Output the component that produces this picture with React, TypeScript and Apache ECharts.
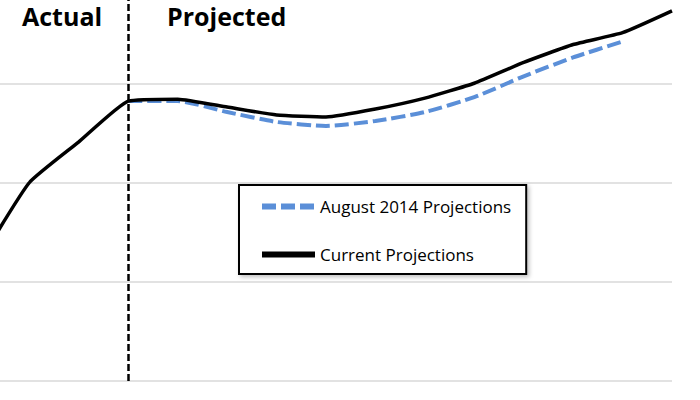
import React, { useEffect, useRef } from "react";
import * as echarts from "echarts";

const years = ["2011", "2012", "2013", "2014", "2015", "2016", "2017", "2018", "2019", "2020", "2021", "2022", "2023", "2024", "2025"];
const currentProjections = [1.21, 2.0, 2.41, 2.82, 2.84, 2.76, 2.68, 2.66, 2.74, 2.85, 3.0, 3.21, 3.39, 3.51, 3.73];
const august2014Projections = [null, null, null, 2.82, 2.82, 2.71, 2.61, 2.57, 2.62, 2.71, 2.86, 3.07, 3.26, 3.42, null];
const dividerYear = "2014";

export default function App() {
  const ref = useRef<HTMLDivElement>(null);
  useEffect(() => {
    const chart = echarts.init(ref.current!, null, { renderer: "svg" });
    chart.setOption({
      animation: false,
      backgroundColor: "#ffffff",
      textStyle: { fontFamily: "Open Sans" },
      grid: { left: -20, right: 28, top: -16, bottom: 19, outerBoundsMode: "none", containLabel: false },
      xAxis: {
        type: "category",
        data: years,
        boundaryGap: false,
        axisLine: { show: false },
        axisTick: { show: false },
        axisLabel: { show: false },
      },
      yAxis: {
        type: "value",
        min: 0,
        max: 4,
        interval: 1,
        axisLine: { show: false },
        axisTick: { show: false },
        axisLabel: { show: false },
        splitLine: { lineStyle: { color: "#d9d9d9", width: 1.5 } },
      },
      legend: {
        orient: "vertical",
        left: 239,
        top: 185,
        data: ["August 2014 Projections", "Current Projections"],
        itemWidth: 53,
        itemHeight: 14,
        itemGap: 31,
        padding: [13, 15, 11, 20],
        borderColor: "#000000",
        borderWidth: 2,
        borderRadius: 0,
        backgroundColor: "#ffffff",
        shadowBlur: 4,
        shadowColor: "rgba(0,0,0,0.25)",
        shadowOffsetX: 2,
        shadowOffsetY: 2,
        itemStyle: { opacity: 0 },
        lineStyle: { width: 6 },
        textStyle: { fontFamily: "Open Sans", fontSize: 17, color: "#000000" },
      },
      graphic: [
        { type: "text", left: 22, top: 3, style: { text: "Actual", font: "bold 25px 'Open Sans'", fill: "#000" } },
        { type: "text", left: 167, top: 3, style: { text: "Projected", font: "bold 25px 'Open Sans'", fill: "#000" } },
      ],
      series: [
        {
          name: "August 2014 Projections",
          type: "line",
          data: august2014Projections,
          symbol: "none",
          smooth: 0.2,
          lineStyle: { color: "#5B8FD8", width: 4, type: [14, 5] },
          itemStyle: { color: "#5B8FD8" },
          z: 2,
        },
        {
          name: "Current Projections",
          type: "line",
          data: currentProjections,
          symbol: "none",
          smooth: 0.15,
          lineStyle: { color: "#000000", width: 3.5 },
          itemStyle: { color: "#000000" },
          z: 3,
          markLine: {
            silent: true,
            symbol: "none",
            label: { show: false },
            lineStyle: { color: "#000000", width: 2.5, type: [7, 3] },
            data: [{ xAxis: dividerYear }],
          },
        },
      ],
    });
    return () => chart.dispose();
  }, []);
  return <div ref={ref} style={{ width: 700, height: 400, position: "fixed", left: 0, top: 0 }} />;
}
